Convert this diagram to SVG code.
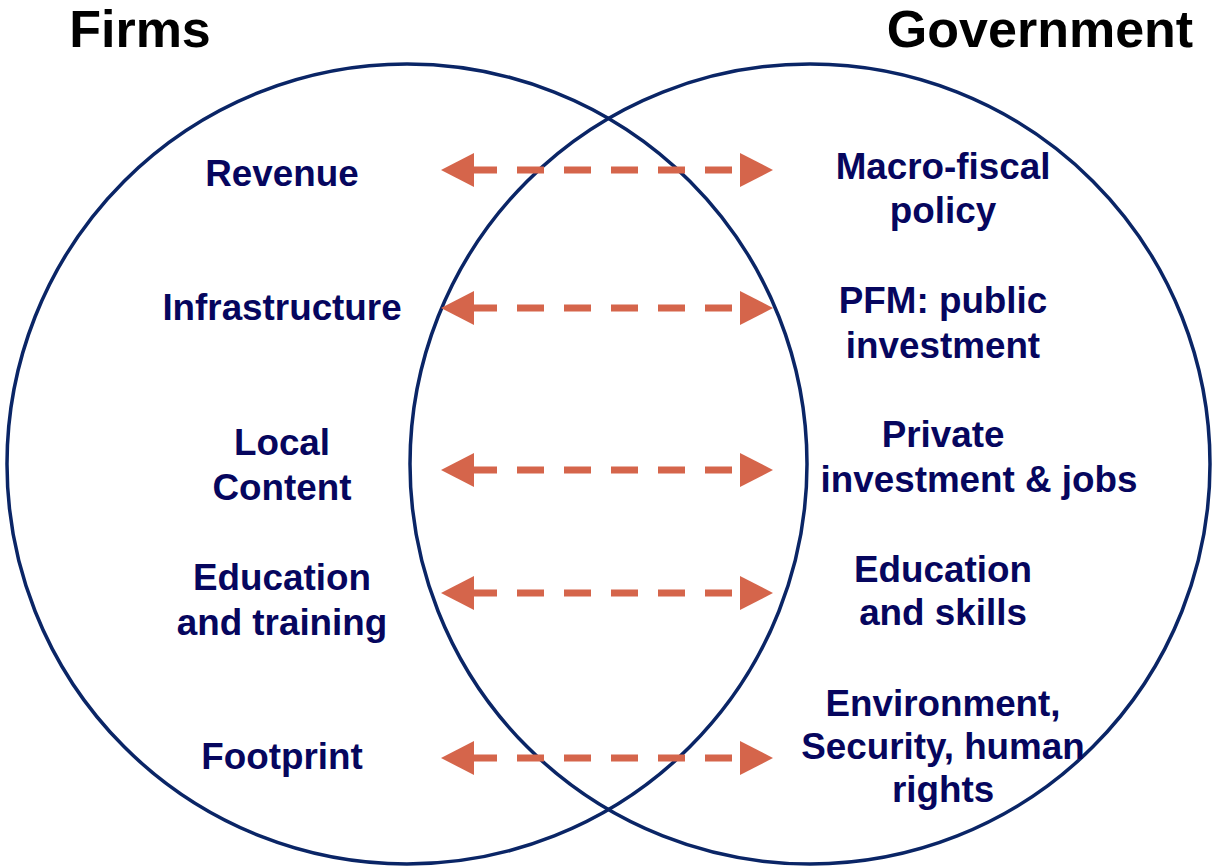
<svg xmlns="http://www.w3.org/2000/svg" width="1214" height="868" viewBox="0 0 1214 868">
<style>
.circ{fill:none;stroke:#0A2566;stroke-width:3.5}
.title{font-family:"Liberation Sans",Arial,sans-serif;font-weight:bold;font-size:52px;fill:#000000;text-anchor:middle}
.lbl{font-family:"Liberation Sans",Arial,sans-serif;font-weight:bold;font-size:36.8px;fill:#06065E;text-anchor:middle}
.arr{fill:none;stroke:#D5654B;stroke-width:7;stroke-dasharray:27 20;stroke-dashoffset:4;marker-start:url(#head);marker-end:url(#head)}
</style>
<defs>
<marker id="head" viewBox="0 0 33 34" refX="0" refY="17" markerWidth="33" markerHeight="34" markerUnits="userSpaceOnUse" orient="auto-start-reverse">
<path d="M0,0 L33,17 L0,34 z" fill="#D5654B"/>
</marker>
</defs>
<rect width="1214" height="868" fill="#ffffff"/>
<g id="firms-circle"><circle class="circ" cx="407" cy="464" r="400"/></g>
<g id="government-circle"><circle class="circ" cx="810" cy="464" r="400"/></g>
<g id="titles">
<text class="title" x="140" y="47">Firms</text>
<text class="title" x="1040" y="47">Government</text>
</g>
<g id="connectors">
<path class="arr" d="M474,170 H740"/>
<path class="arr" d="M474,308 H740"/>
<path class="arr" d="M474,470 H740"/>
<path class="arr" d="M474,593 H740"/>
<path class="arr" d="M474,758 H740"/>
</g>
<g id="revenue"><text class="lbl" x="282" y="186">Revenue</text></g>
<g id="infrastructure"><text class="lbl" x="282" y="320">Infrastructure</text></g>
<g id="local-content"><text class="lbl" x="282" y="455">Local</text><text class="lbl" x="282" y="500">Content</text></g>
<g id="education-training"><text class="lbl" x="282" y="590">Education</text><text class="lbl" x="282" y="635">and training</text></g>
<g id="footprint"><text class="lbl" x="282" y="769">Footprint</text></g>
<g id="macro-fiscal"><text class="lbl" x="943" y="179">Macro-fiscal</text><text class="lbl" x="943" y="223">policy</text></g>
<g id="pfm"><text class="lbl" x="943" y="313">PFM: public</text><text class="lbl" x="943" y="358">investment</text></g>
<g id="private-investment"><text class="lbl" x="943" y="447">Private</text><text class="lbl" x="979" y="492">investment &amp; jobs</text></g>
<g id="education-skills"><text class="lbl" x="943" y="582">Education</text><text class="lbl" x="943" y="625">and skills</text></g>
<g id="environment"><text class="lbl" x="943" y="716">Environment,</text><text class="lbl" x="943" y="759">Security, human</text><text class="lbl" x="943" y="802">rights</text></g>
</svg>
